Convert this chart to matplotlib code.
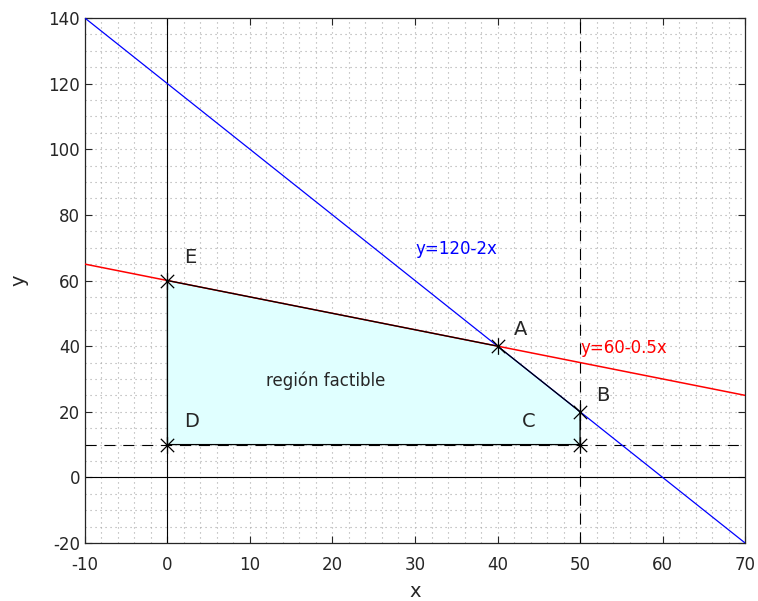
import numpy as np
import matplotlib
matplotlib.use("Agg")
import matplotlib.pyplot as plt
from matplotlib.ticker import MultipleLocator
from matplotlib.path import Path

# rectas de las restricciones
x_line = [-10, 70]
y_blue = [120 - 2 * v for v in x_line]    # y = 120 - 2x
y_red = [60 - 0.5 * v for v in x_line]    # y = 60 - 0.5x

# region factible (vertices)
reg_x = [0, 0, 40, 50, 50]
reg_y = [10, 60, 40, 20, 10]

# puntos marcados
pts_x = [0, 40, 50, 50, 0]
pts_y = [60, 40, 20, 10, 10]
pt_names = ["E", "A", "B", "C", "D"]
name_x = [2, 42, 52, 43, 2]
name_y = [67, 45, 25, 17, 17]

txtcol = "#262626"
plt.rcParams["font.family"] = "DejaVu Sans"
plt.rcParams["axes.unicode_minus"] = False

# asterisco tipo octave: x + linea vertical
ast = Path([(0, -1), (0, 1), (-0.8, -0.8), (0.8, 0.8), (-0.8, 0.8), (0.8, -0.8)],
           [Path.MOVETO, Path.LINETO] * 3)

fig = plt.figure(figsize=(7.58, 6.01), dpi=100)
ax = fig.add_axes([0.112, 0.0965, 0.871, 0.8735])

ax.fill(reg_x, reg_y, color="#e0ffff", zorder=1)
ax.axhline(0, color="k", lw=0.8, zorder=2)
ax.axvline(0, color="k", lw=0.8, zorder=2)
ax.axvline(50, color="k", lw=0.8, ls=(0, (10, 7)), zorder=2)
ax.axhline(10, color="k", lw=0.8, ls=(0, (10, 7)), zorder=2)

ax.plot(x_line, y_blue, color="blue", lw=0.9, zorder=3)
ax.plot(x_line, y_red, color="red", lw=1.1, zorder=3)

ax.plot(reg_x + [reg_x[0]], reg_y + [reg_y[0]], color="k", lw=0.9, zorder=4)
ax.plot(pts_x, pts_y, ls="none", marker=ast, ms=12, mew=0.9, color="k", zorder=5)

for n, tx, ty in zip(pt_names, name_x, name_y):
    ax.text(tx, ty, n, fontsize=14, color=txtcol, va="center", ha="left")

ax.text(30, 69.5, "y=120-2x", color="blue", fontsize=12, va="center")
ax.text(50, 39.5, "y=60-0.5x", color="red", fontsize=12, va="center")
ax.text(12, 29.3, "región factible", color=txtcol, fontsize=12, va="center")

ax.set_xlim(-10, 70)
ax.set_ylim(-20, 140)
ax.xaxis.set_major_locator(MultipleLocator(10))
ax.yaxis.set_major_locator(MultipleLocator(20))
ax.xaxis.set_minor_locator(MultipleLocator(2))
ax.yaxis.set_minor_locator(MultipleLocator(5))
ax.grid(which="both", color="#a8a8a8", ls=(0, (1, 3.5)), lw=0.8, zorder=0)
ax.set_axisbelow(True)

ax.tick_params(which="major", direction="in", length=5, top=True, right=True,
               labelsize=12, labelcolor=txtcol, color=txtcol)
ax.tick_params(axis="x", which="major", pad=9)
ax.tick_params(which="minor", length=0)
for s in ax.spines.values():
    s.set_color(txtcol)
    s.set_linewidth(0.9)

ax.set_xlabel("x", fontsize=14, color=txtcol, labelpad=6)
ax.set_ylabel("y", fontsize=14, color=txtcol, labelpad=14)

fig.savefig("out.png", dpi=100)
